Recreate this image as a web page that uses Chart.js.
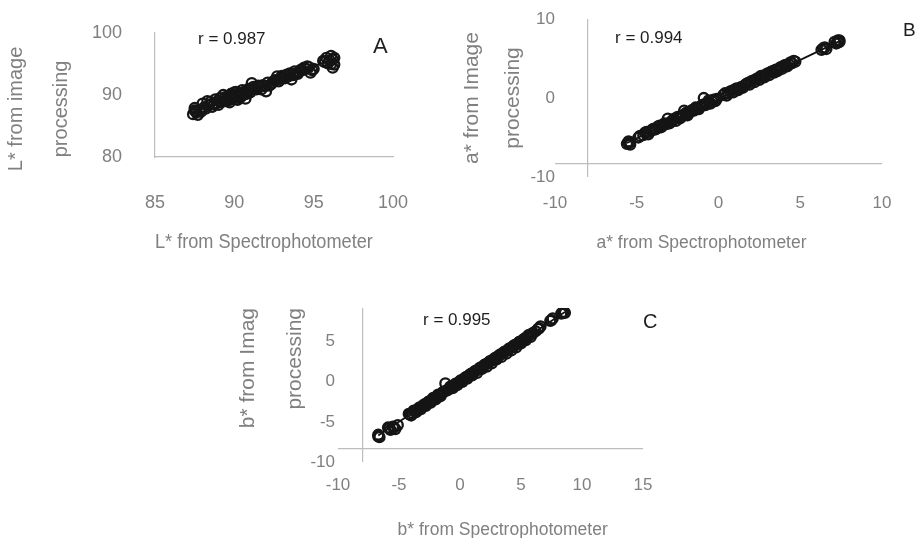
<!DOCTYPE html>
<html><head><meta charset="utf-8">
<script src="https://cdn.jsdelivr.net/npm/chart.js@4.4.1/dist/chart.umd.min.js"></script>
<style>
html,body{margin:0;padding:0;background:#fff;width:920px;height:538px;overflow:hidden;position:relative;font-family:"Liberation Sans",Arial,sans-serif}
canvas{position:absolute}
.t{position:absolute;color:#1e1e1e;white-space:nowrap;line-height:1;font-family:"Liberation Sans",Arial,sans-serif}
</style></head><body>
<canvas id="ca" width="450" height="271" style="left:-6px;top:-11px"></canvas>
<canvas id="cb" width="468" height="260" style="left:452px;top:0px"></canvas>
<canvas id="cc" width="455" height="252" style="left:225px;top:290px"></canvas>
<div class="t" style="left:198px;top:30px;font-size:17px">r = 0.987</div>
<div class="t" style="left:373px;top:35px;font-size:22px">A</div>
<div class="t" style="left:615px;top:29px;font-size:17px">r = 0.994</div>
<div class="t" style="left:903px;top:20px;font-size:19px">B</div>
<div class="t" style="left:423px;top:311px;font-size:17px">r = 0.995</div>
<div class="t" style="left:643px;top:311px;font-size:20px">C</div>
<script>
// Panel A: L*
const lSpectro = [87.4,87.5,87.5,87.6,87.7,87.8,88.1,88.3,88.4,88.6,88.8,88.9,89.1,89.2,89.3,89.5,89.6,89.7,89.8,89.9,90.0,90.1,90.2,90.3,90.4,90.5,90.6,90.7,90.8,90.9,91.0,91.1,91.3,91.5,91.7,91.8,92.0,92.1,92.3,92.5,92.7,92.9,93.1,93.3,93.5,93.6,93.8,94.0,94.2,94.4,94.6,94.8,95.0,95.6,95.8,95.9,96.1,96.2,96.2,96.3,
  87.6,87.9,88.0,88.2,88.5,88.7,89.0,89.0,89.4,89.4,89.6,89.8,90.0,90.1,90.2,90.3,90.5,90.6,90.8,91.0,91.2,91.4,91.6,91.9,92.2,92.4,92.6,92.8,93.0,93.2,93.4,93.7,93.9,94.1,94.3,94.5,94.7,94.9,95.7,96.0,96.1,96.3];
const lImage   = [86.9,87.5,87.9,87.2,86.8,87.6,88.0,89.0,88.4,88.1,89.3,88.7,89.5,88.9,90.0,89.3,89.8,88.8,90.2,89.5,89.9,90.5,89.2,90.3,89.7,90.8,90.1,89.4,90.6,91.0,90.4,91.9,91.1,91.5,90.9,91.6,90.6,92.0,91.7,92.3,93.0,92.6,92.9,93.3,93.5,92.5,93.8,93.4,94.1,94.4,94.6,93.6,94.2,95.5,96.0,95.1,96.3,94.4,95.7,94.9,
  87.4,87.3,88.6,87.8,88.9,88.5,89.1,88.4,89.0,89.6,89.1,89.3,90.4,89.6,90.0,89.5,89.9,90.5,90.2,90.8,91.3,90.9,91.3,91.4,91.5,92.0,92.4,92.2,93.1,92.7,93.0,93.2,93.5,93.8,94.0,94.2,94.5,94.0,95.3,95.6,95.0,96.0];
const lTrendX = [87.4,96.3];
const lTrendY = [87.2,95.9];
const lXTicks = [85,90,95,100];
const lYTicks = [80,90,100];

// Panel B: a*
const aSpectro = [-5.6,-5.5,-5.4,-4.9,-4.5,-4.3,-4.1,-3.9,-3.7,-3.5,-3.3,-3.1,-3.0,-2.8,-2.6,-2.5,-2.3,-2.1,-2.0,-1.9,-1.7,-1.5,-1.4,-1.2,-1.0,-0.9,-0.8,-0.6,-0.5,-0.3,-0.2,0.4,0.5,0.7,0.9,1.0,1.2,1.4,1.5,1.7,1.9,2.0,2.2,2.3,2.5,2.6,2.8,2.9,3.1,3.2,3.4,3.5,3.6,3.8,3.9,4.0,4.2,4.3,4.5,4.6,6.3,6.5,6.6,7.1,7.2,7.3,7.4,
  -5.5,-5.4,-4.8,-4.6,-4.4,-4.2,-4.0,-3.8,-3.6,-3.4,-3.2,-2.9,-2.7,-2.4,-2.2,-2.0,-1.8,-1.6,-1.3,-1.1,-0.9,-0.7,-0.6,-0.4,-0.1,0.3,0.6,0.8,1.1,1.3,1.6,1.8,2.1,2.4,2.7,3.0,3.3,3.7,4.1,4.4,4.7,6.4,7.3,7.4];
const aImage   = [-5.8,-5.5,-5.9,-5.0,-4.4,-4.6,-4.1,-4.0,-3.6,-3.7,-3.2,-2.6,-3.2,-2.8,-2.9,-2.4,-2.5,-1.6,-2.1,-2.2,-1.7,-1.6,-1.2,-1.4,-0.9,0.0,-0.9,-0.5,-0.7,-0.2,-0.4,0.6,0.3,0.8,0.7,1.1,1.0,1.4,1.3,1.8,1.7,2.1,2.0,2.4,2.3,2.8,2.6,3.0,2.9,3.3,3.2,3.6,3.4,3.9,3.7,4.1,4.0,4.3,4.4,4.7,6.1,6.4,6.2,7.1,6.9,7.3,7.1,
  -5.7,-5.6,-4.8,-4.7,-4.3,-4.3,-3.9,-3.9,-3.5,-3.4,-3.3,-3.0,-2.6,-2.6,-2.2,-1.9,-1.9,-1.5,-1.3,-1.1,-0.8,-0.7,-0.3,-0.4,-0.1,0.4,0.6,0.9,1.2,1.2,1.6,1.9,2.2,2.5,2.7,3.1,3.4,3.7,4.2,4.5,4.6,6.3,7.0,7.3];
const aTrendX = [-5.6,7.4];
const aTrendY = [-5.7,7.2];
const aXTicks = [-10,-5,0,5,10];
const aYTicks = [-10,0,10];
const aAxisCross = {x: -8, y: -8.35};

// Panel C: b*
const bSpectro = [-6.7,-6.6,-5.9,-5.7,-5.5,-5.3,-5.1,-4.2,-4.0,-3.8,-3.6,-3.4,-3.2,-3.0,-2.8,-2.6,-2.4,-2.2,-2.0,-1.8,-1.6,-1.4,-1.2,-1.0,-0.8,-0.6,-0.4,-0.2,0.0,0.2,0.4,0.6,0.8,1.0,1.2,1.4,1.6,1.8,2.0,2.2,2.4,2.6,2.8,3.0,3.2,3.4,3.6,3.8,4.0,4.2,4.4,4.6,4.8,5.0,5.2,5.4,5.6,5.8,6.0,6.4,6.6,7.4,7.6,8.3,8.5,8.6,
  -6.7,-5.8,-5.4,-4.1,-3.9,-3.7,-3.5,-3.3,-3.1,-2.9,-2.7,-2.5,-2.3,-2.1,-1.9,-1.7,-1.5,-1.3,-1.1,-0.9,-0.7,-0.5,-0.3,-0.1,0.1,0.3,0.5,0.7,0.9,1.1,1.3,1.5,1.7,1.9,2.1,2.3,2.5,2.7,2.9,3.1,3.3,3.5,3.7,3.9,4.1,4.3,4.5,4.7,4.9,5.1,5.3,5.5,5.7,5.9,6.2,6.5,7.5,8.4];
const bImage   = [-6.6,-6.9,-5.7,-6.0,-5.6,-5.9,-5.4,-4.0,-4.2,-3.6,-3.8,-3.3,-3.4,-2.9,-3.0,-2.5,-2.6,-2.0,-2.2,-1.6,-1.8,-1.3,-0.2,-1.0,-0.6,-0.8,-0.3,-0.4,0.1,0.0,0.5,0.4,0.9,0.8,1.3,1.1,1.7,1.6,2.1,1.9,2.5,2.3,2.9,2.8,3.3,3.1,3.7,3.5,4.1,3.9,4.5,4.3,4.9,4.8,5.3,5.2,5.8,5.6,6.1,6.6,6.9,7.6,7.9,8.5,8.7,8.6,
  -6.8,-5.8,-5.7,-4.1,-3.9,-3.7,-3.5,-3.2,-3.1,-2.8,-2.8,-2.4,-2.3,-2.1,-1.9,-1.7,-1.5,-1.2,-1.1,-0.9,-0.7,-0.5,-0.2,-0.1,0.2,0.3,0.6,0.7,1.0,1.1,1.4,1.5,1.8,1.9,2.2,2.3,2.6,2.7,3.0,3.1,3.4,3.5,3.8,3.9,4.2,4.3,4.6,4.7,5.0,5.1,5.4,5.5,5.8,6.0,6.3,6.7,7.7,8.6];
const bTrendX = [-6.7,8.6];
const bTrendY = [-6.7,8.7];
const bXTicks = [-10,-5,0,5,10,15];
const bYTicks = [-10,-5,0,5];
const bAxisCross = {x: -8, y: -8.3};

const GRAY_TXT = '#808080';
const AXIS = '#bdbdbd';
const FONT = '"Liberation Sans", Arial, sans-serif';

function pts(xs, ys){ return xs.map((x,i)=>({x, y: ys[i]})); }

function makeChart(id, o){
  const useCross = o.xCross !== undefined;
  const xT = useCross ? o.xTicks.concat([o.xCross]).sort((a,b)=>a-b) : o.xTicks;
  const yT = useCross ? o.yTicks.concat([o.yCross]).sort((a,b)=>a-b) : o.yTicks;
  new Chart(document.getElementById(id), {
    type: 'scatter',
    data: {
      datasets: [
        {type:'line', data: pts(o.tx, o.ty), borderColor:'#111', borderWidth:1.8, pointRadius:0, fill:false, order:2},
        {data: pts(o.xs, o.ys), pointRadius:5, pointBorderWidth:2.3, borderColor:'#151515', pointBorderColor:'#151515', pointBackgroundColor:'rgba(255,255,255,0)', order:1}
      ]
    },
    options: {
      responsive:false, animation:false,
      layout:{padding:{top:o.padTop, right:o.padRight, left:0, bottom:0}},
      plugins:{legend:{display:false}, tooltip:{enabled:false}},
      scales:{
        x:{
          type:'linear', min:o.xMin, max:o.xMax,
          afterBuildTicks: s => { s.ticks = xT.map(v=>({value:v})); },
          afterFit: s => { s.height = o.xHeight; },
          ticks:{autoSkip:false, maxRotation:0, padding:o.xPad, color:GRAY_TXT, font:{family:FONT, size:o.tickSize},
                 callback: v => o.xTicks.includes(v) ? String(v) : ''},
          grid: useCross ? {display:true, drawTicks:false, lineWidth:1.2,
                 color: c => (c.tick && c.tick.value === o.xCross) ? AXIS : 'rgba(0,0,0,0)'} : {display:false, drawTicks:false},
          border: useCross ? {display:false} : {display:true, color:AXIS, width:1.2},
          title:{display:true, text:o.xTitle, color:GRAY_TXT, font:{family:FONT, size:o.xTitleSize}, padding:{top:0, bottom:o.xTitlePadB}}
        },
        y:{
          type:'linear', min:o.yMin, max:o.yMax,
          afterBuildTicks: s => { s.ticks = yT.map(v=>({value:v})); },
          afterFit: s => { s.width = o.yWidth; },
          ticks:{autoSkip:false, padding:o.yPad, color:GRAY_TXT, font:{family:FONT, size:o.tickSize},
                 callback: v => o.yTicks.includes(v) ? String(v) : ''},
          grid: useCross ? {display:true, drawTicks:false, lineWidth:1.2,
                 color: c => (c.tick && c.tick.value === o.yCross) ? AXIS : 'rgba(0,0,0,0)'} : {display:false, drawTicks:false},
          border: useCross ? {display:false} : {display:true, color:AXIS, width:1.2},
          title:{display:true, text:o.yTitle, align:o.yAlign, color:GRAY_TXT,
                 font:{family:FONT, size:o.yTitleSize, lineHeight:o.yLineH/o.yTitleSize}, padding:{top:0, bottom:0}}
        }
      }
    }
  });
}

makeChart('ca', {
  xs:lSpectro, ys:lImage, tx:lTrendX, ty:lTrendY,
  xMin:85, xMax:100, yMin:80, yMax:100, xTicks:lXTicks, yTicks:lYTicks,
  padTop:44, padRight:51, xHeight:103, yWidth:161, xPad:35, yPad:33,
  tickSize:18, xTitleSize:21, yTitleSize:20, yLineH:45, xTitlePadB:5, yAlign:'center',
  xTitle:'L* from Spectrophotometer    ', yTitle:['L* from image     ','processing     ']
});
makeChart('cb', {
  xs:aSpectro, ys:aImage, tx:aTrendX, ty:aTrendY,
  xMin:-10, xMax:10, yMin:-10, yMax:10, xTicks:aXTicks, yTicks:aYTicks,
  xCross:aAxisCross.x, yCross:aAxisCross.y,
  padTop:19, padRight:38, xHeight:83, yWidth:103, xPad:16, yPad:0,
  tickSize:17, xTitleSize:17.5, yTitleSize:21, yLineH:41, xTitlePadB:6.5, yAlign:'center',
  xTitle:'a* from Spectrophotometer       ', yTitle:['a* from Image','processing']
});
makeChart('cc', {
  xs:bSpectro, ys:bImage, tx:bTrendX, ty:bTrendY,
  xMin:-10, xMax:15, yMin:-10, yMax:9.2, xTicks:bXTicks, yTicks:bYTicks,
  xCross:bAxisCross.x, yCross:bAxisCross.y,
  padTop:18, padRight:37, xHeight:80, yWidth:113, xPad:13, yPad:3,
  tickSize:17, xTitleSize:17.5, yTitleSize:21, yLineH:47, xTitlePadB:1.5, yAlign:'end',
  xTitle:'     b* from Spectrophotometer', yTitle:['b* from Imag','processing']
});
</script>
</body></html>
